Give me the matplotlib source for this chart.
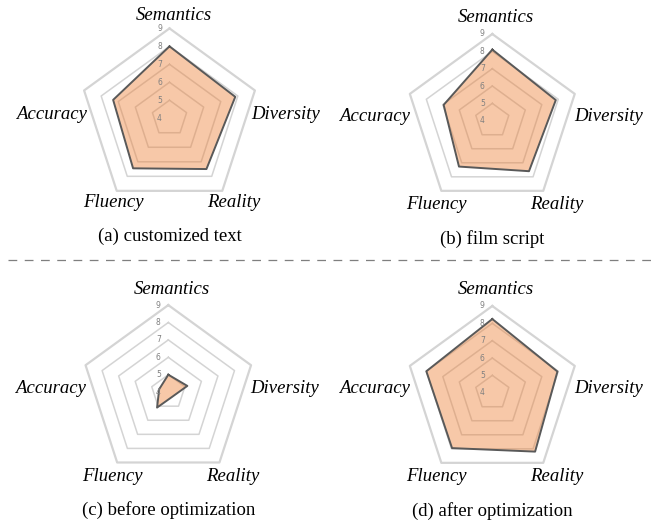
import numpy as np
import matplotlib
matplotlib.use('Agg')
import matplotlib.pyplot as plt
from matplotlib.lines import Line2D

# ---------------- data ----------------
categories = ['Semantics', 'Diversity', 'Reality', 'Fluency', 'Accuracy']
captions = ['(a) customized text', '(b) film script',
            '(c) before optimization', '(d) after optimization']
scores_a = [8.0, 7.85, 7.5, 7.45, 7.3]
scores_b = [8.1, 7.85, 7.6, 7.27, 6.95]
scores_c = [5.0, 5.15, 4.35, 5.1, 4.55]
scores_d = [8.25, 7.95, 8.2, 7.95, 8.0]
levels = [4, 5, 6, 7, 8, 9]

# ---------------- layout (pixels) ----------------
W, H = 660, 521
panels = [  # center x, center y, radius of outer ring
    (169.5, 118.2, 89.8),
    (492.3, 120.7, 86.7),
    (168.3, 392.1, 87.0),
    (492.3, 392.7, 86.7),
]
# label offsets from chart centre (px, y downwards)
label_off = [(4, -103), (116, -4), (64, 84), (-56, 84), (-118, -4)]
caption_dy = 118

fill_col = '#ED7D31'
edge_col = '#595959'
grid_col = '#d4d4d4'

fig = plt.figure(figsize=(W / 100, H / 100), dpi=100)

theta = np.linspace(0, 2 * np.pi, len(categories), endpoint=False)
theta_c = np.append(theta, theta[0])

all_scores = [scores_a, scores_b, scores_c, scores_d]

for (cx, cy, R), vals, cap in zip(panels, all_scores, captions):
    ax = fig.add_axes([(cx - R) / W, (H - cy - R) / H, 2 * R / W, 2 * R / H],
                      projection='polar')
    ax.set_theta_offset(np.pi / 2)
    ax.set_theta_direction(-1)
    ax.set_ylim(levels[0], levels[-1])
    ax.grid(False)
    ax.set_xticks([])
    ax.set_yticks([])
    ax.spines['polar'].set_visible(False)
    ax.patch.set_visible(False)

    # pentagon grid
    for lv in levels[1:]:
        ax.plot(theta_c, [lv] * len(theta_c), color=grid_col,
                lw=1.6 if lv == levels[-1] else 1.1, clip_on=False, zorder=1)
    for lv in levels:
        ax.annotate(str(lv), xy=(0, lv), xytext=(-10, 0), textcoords='offset pixels',
                    ha='center', va='center', fontsize=5.5, color='#808080', zorder=4)

    v = list(vals) + [vals[0]]
    ax.fill(theta_c, v, color=fill_col, alpha=0.42, lw=0, zorder=2)
    ax.plot(theta_c, v, color=edge_col, lw=1.4, clip_on=False, zorder=3)

    for name, (dx, dy) in zip(categories, label_off):
        ax.annotate(name, xy=(0.5, 0.5), xycoords='axes fraction',
                    xytext=(dx, -dy), textcoords='offset pixels',
                    ha='center', va='center', fontsize=13.5,
                    family='Liberation Serif', style='italic')
    ax.annotate(cap, xy=(0.5, 0.5), xycoords='axes fraction',
                xytext=(0, -caption_dy), textcoords='offset pixels',
                ha='center', va='center', fontsize=13.5, family='Liberation Serif')

# separator between the two rows
fig.add_artist(Line2D([8 / W, 652 / W], [1 - 260 / H, 1 - 260 / H],
                      color='#7f7f7f', lw=0.9, linestyle=(0, (7, 6))))

fig.savefig('out.png', dpi=100)
